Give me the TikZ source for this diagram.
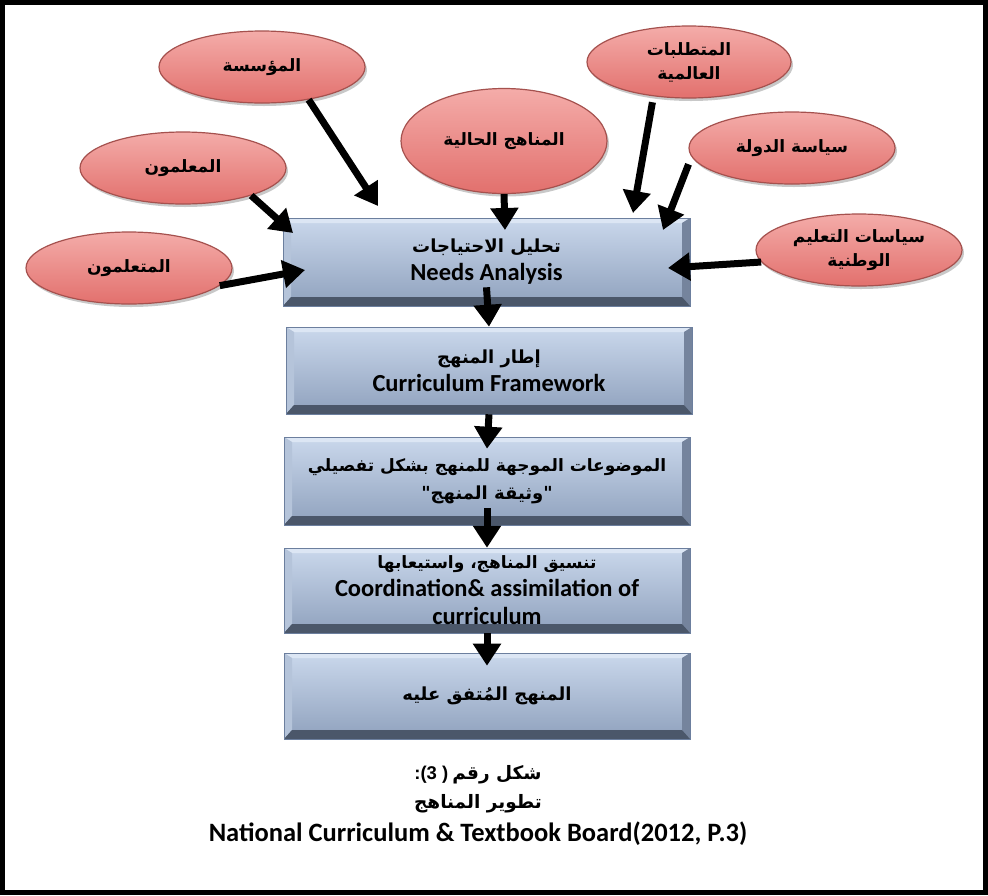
\documentclass[tikz,border=0pt]{standalone}
\usepackage{fontspec}
\setmainfont{Carlito}
\newfontfamily\arabicfont[Script=Arabic]{DejaVu Sans}
\newfontfamily\plainfont{Liberation Sans}
\TeXXeTstate=1
\usetikzlibrary{arrows.meta,shadows,shapes.geometric}

% colours
\definecolor{bubbletop}{HTML}{F4ACA9}
\definecolor{bubblebot}{HTML}{E2706D}
\definecolor{bubbleedge}{HTML}{A5514E}
\definecolor{facetop}{HTML}{CAD8EC}
\definecolor{facebot}{HTML}{8FA1BD}
\definecolor{bevtop}{HTML}{DCE6F4}
\definecolor{bevleft}{HTML}{B5C4DA}
\definecolor{bevright}{HTML}{75849D}
\definecolor{bevbot}{HTML}{4B576A}
\definecolor{boxedge}{HTML}{6C7F9E}

% bold Arabic, right to left
\newcommand{\artext}[1]{{\arabicfont\bfseries\beginR #1\endR}}
% a single Arabic line centred on its node by its letter bodies
\newcommand{\arline}[1]{\raisebox{-9pt}{\smash{\artext{#1}}}}
\newcommand{\arbox}[1]{{\fontsize{18}{26}\selectfont\artext{#1}}}
\newcommand{\arboxsmall}[1]{{\fontsize{17}{26}\selectfont\artext{#1}}}

\begin{document}
\begin{tikzpicture}[x=1pt,y=-1pt,
  bubble/.style={ellipse, draw=bubbleedge, line width=1.2pt,
    top color=bubbletop, bottom color=bubblebot,
    minimum width=206pt, minimum height=72pt, inner sep=0pt, align=center,
    font=\fontsize{17}{24}\selectfont,
    drop shadow={shadow xshift=2pt, shadow yshift=-3pt, opacity=0.3, fill=black!70}},
  stagebox/.style={rectangle, draw=boxedge, line width=0.6pt,
    top color=facetop, bottom color=facebot,
    minimum width=406pt, minimum height=87pt, inner sep=2pt, align=center,
    font=\fontsize{24.5}{28}\selectfont\bfseries,
    path picture={
      \fill[bevtop] (path picture bounding box.north west) -- (path picture bounding box.north east)
        -- ([xshift=-8pt,yshift=-5pt]path picture bounding box.north east)
        -- ([xshift=8pt,yshift=-5pt]path picture bounding box.north west) -- cycle;
      \fill[bevleft] (path picture bounding box.north west) -- (path picture bounding box.south west)
        -- ([xshift=8pt,yshift=9pt]path picture bounding box.south west)
        -- ([xshift=8pt,yshift=-5pt]path picture bounding box.north west) -- cycle;
      \fill[bevright] (path picture bounding box.north east) -- (path picture bounding box.south east)
        -- ([xshift=-8pt,yshift=9pt]path picture bounding box.south east)
        -- ([xshift=-8pt,yshift=-5pt]path picture bounding box.north east) -- cycle;
      \fill[bevbot] (path picture bounding box.south west) -- (path picture bounding box.south east)
        -- ([xshift=-8pt,yshift=9pt]path picture bounding box.south east)
        -- ([xshift=8pt,yshift=9pt]path picture bounding box.south west) -- cycle;
    }},
  arr/.style={line width=7pt, -{Triangle[length=22pt,width=27pt]}},
  caption/.style={font=\fontsize{26.5}{30}\selectfont\bfseries, inner sep=1pt},
  arcaption/.style={font=\fontsize{18.5}{24}\selectfont, inner sep=1pt}
]
\useasboundingbox (0,0) rectangle (988,895);
\fill[white] (0,0) rectangle (988,895);
\draw[line width=5pt] (2.5,2.5) rectangle (985.5,892.5);

% sources of needs
\node[bubble] (inst)  at (262,67)  {\arline{المؤسسة}};
\node[bubble] (teach) at (183,168) {\arline{المعلمون}};
\node[bubble] (learn) at (129,268) {\arline{المتعلمون}};
\node[bubble, minimum height=105pt] (curr) at (504,141) {\arline{المناهج الحالية}};
\node[bubble, minimum width=204pt] (glob) at (689,62) {\artext{المتطلبات}\\\artext{العالمية}};
\node[bubble] (state) at (792,148) {\arline{سياسة الدولة}};
\node[bubble] (natl)  at (859,250) {\artext{سياسات التعليم}\\\artext{الوطنية}};

% stages
\node[stagebox, minimum width=407pt, minimum height=88pt] (needs) at (486.5,262)
  {\arbox{تحليل الاحتياجات}\\Needs Analysis};
\node[stagebox] (frame) at (489,370.5)
  {\arbox{إطار المنهج}\\Curriculum Framework};
\node[stagebox, minimum height=88pt] (topics) at (487,481)
  {\arboxsmall{الموضوعات الموجهة للمنهج بشكل تفصيلي}\\\arbox{"وثيقة المنهج"}};
\node[stagebox, minimum height=85pt] (coord) at (487,590.5)
  {\arboxsmall{تنسيق المناهج، واستيعابها}\\Coordination\& assimilation of\\curriculum};
\node[stagebox, minimum height=86pt] (agreed) at (487,696)
  {{\fontsize{18}{26}\selectfont\arline{المنهج المُتفق عليه}}};

% arrow tips that stop on the first stage
\coordinate (t1) at (378,206);
\coordinate (t2) at (293,233);
\coordinate (t3) at (305,270);
\coordinate (t4) at (505,230);
\coordinate (t5) at (633,213);
\coordinate (t6) at (663,230);
\coordinate (t7) at (668,268);

\draw[arr] (inst.-35) -- (t1);
\draw[arr] (teach.-22) -- (t2);
\draw[arr] (learn.-11) -- (t3);
\draw[arr] (curr.south) -- (t4);
\draw[arr, shorten <=6pt] (glob.-136) -- (t5);
\draw[arr, shorten <=8pt] (state.-175) -- (t6);
\draw[arr] (natl.-173) -- (t7);

% flow between stages
\draw[arr] ([yshift=19pt]needs.south) -- (frame.north);
\draw[arr] (frame.south) -- ([yshift=-12pt]topics.north);
\draw[arr] ([yshift=17pt]topics.south) -- (coord.north);
\draw[arr] (coord.south) -- ([yshift=-13pt]agreed.north);

% caption
\node[arcaption] (cap1) at (478,775) {{\plainfont\bfseries :(3 )} \artext{شكل رقم}};
\node[arcaption] (cap2) at (478,804) {\artext{تطوير المناهج}};
\node[caption] (cap3) at (478,834) {National Curriculum \& Textbook Board(2012, P.3)};
\end{tikzpicture}
\end{document}
